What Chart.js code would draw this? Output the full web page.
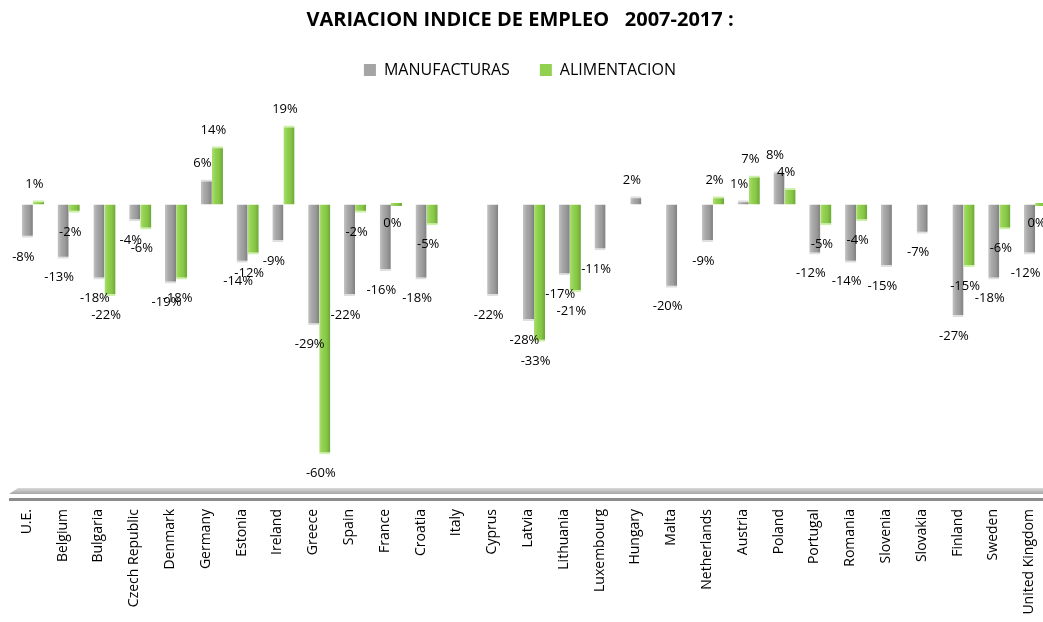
<!DOCTYPE html>
<html>
<head>
<meta charset="utf-8">
<script src="https://cdn.jsdelivr.net/npm/chart.js@4.4.1/dist/chart.umd.min.js"></script>
<style>
  html, body { margin: 0; padding: 0; background: #fff; overflow: hidden; }
  #wrap { position: absolute; left: -13px; top: 0; width: 1066px; height: 622px; }
</style>
</head>
<body>
<div id="wrap"><canvas id="chartEmpleo"></canvas></div>
<script>
// Datos (variación % 2007-2017)
const paises = ['U.E.', 'Belgium', 'Bulgaria', 'Czech Republic', 'Denmark', 'Germany', 'Estonia', 'Ireland',
  'Greece', 'Spain', 'France', 'Croatia', 'Italy', 'Cyprus', 'Latvia', 'Lithuania', 'Luxembourg', 'Hungary',
  'Malta', 'Netherlands', 'Austria', 'Poland', 'Portugal', 'Romania', 'Slovenia', 'Slovakia', 'Finland',
  'Sweden', 'United Kingdom'];
const manufacturas = [-8, -13, -18, -4, -19, 6, -14, -9, -29, -22, -16, -18, null, -22, -28, -17, -11, 2,
  -20, -9, 1, 8, -12, -14, -15, -7, -27, -18, -12];
const alimentacion = [1, -2, -22, -6, -18, 14, -12, 19, -60, -2, 0, -5, null, null, -33, -21, null, null,
  null, 2, 7, 4, -5, -4, null, null, -15, -6, 0];

const CAT_PCT = 0.62;
const COLORES = ['#a5a5a5', '#92d050'];

// degradado horizontal tipo cilindro para cada barra
function barFill(base, stops) {
  return function (c) {
    const chart = c.chart, xs = chart.scales.x;
    if (c.type !== 'data' || !xs || !chart.chartArea) return base;
    const catW = xs.width / paises.length;
    const w = catW * CAT_PCT / 2;
    const center = xs.getPixelForValue(c.dataIndex);
    const left = center - w + c.datasetIndex * w;
    const g = chart.ctx.createLinearGradient(left, 0, left + w, 0);
    stops.forEach((s, i) => g.addColorStop(i / (stops.length - 1), s));
    return g;
  };
}

// borde claro en el extremo de la barra (tapa)
function tapa(c) {
  const v = c.raw;
  if (c.type !== 'data') return 0;
  return v < 0 ? { bottom: 2 } : { top: 2 };
}

const pisoPlugin = {
  id: 'piso',
  beforeDatasetsDraw(chart) {
    const { ctx, chartArea } = chart;
    const b = chartArea.bottom;
    ctx.save();
    const g = ctx.createLinearGradient(0, b - 12, 0, b - 6);
    g.addColorStop(0, '#d9d9d9');
    g.addColorStop(0.5, '#bfbfbf');
    g.addColorStop(1, '#a6a6a6');
    ctx.fillStyle = g;
    ctx.beginPath();
    ctx.moveTo(chartArea.left + 3, b - 12);
    ctx.lineTo(chart.width, b - 12);
    ctx.lineTo(chart.width, b - 6);
    ctx.lineTo(chartArea.left - 6, b - 6);
    ctx.closePath();
    ctx.fill();
    ctx.fillStyle = '#8c8c8c';
    ctx.fillRect(chartArea.left - 6, b - 2, chart.width, 3);
    ctx.restore();
  }
};

const etiquetasPlugin = {
  id: 'etiquetas',
  afterDatasetsDraw(chart) {
    const ctx = chart.ctx;
    ctx.save();
    ctx.font = '13px "Open Sans"';
    ctx.fillStyle = '#000';
    ctx.textAlign = 'center';
    ctx.textBaseline = 'middle';
    chart.data.datasets.forEach((ds, di) => {
      chart.getDatasetMeta(di).data.forEach((el, i) => {
        const v = ds.data[i];
        if (v === null || v === undefined) return;
        const base = chart.scales.y.getPixelForValue(0);
        const end = chart.scales.y.getPixelForValue(v);
        const y = v > 0 ? end - 16 : Math.max(end, base) + 19;
        ctx.fillText(v + '%', el.x - 4, y);
      });
    });
    ctx.restore();
  }
};

new Chart(document.getElementById('chartEmpleo').getContext('2d'), {
  type: 'bar',
  data: {
    labels: paises,
    datasets: [
      {
        label: 'MANUFACTURAS',
        data: manufacturas,
        backgroundColor: barFill(COLORES[0], ['#c4c4c4', '#a8a8a8', '#9a9a9a', '#7f7f7f']),
        borderColor: 'rgba(220,220,220,0.9)',
        borderWidth: tapa
      },
      {
        label: 'ALIMENTACION',
        data: alimentacion,
        backgroundColor: barFill(COLORES[1], ['#a9e06e', '#92d050', '#86c545', '#6aa534']),
        borderColor: 'rgba(200,240,160,0.9)',
        borderWidth: tapa
      }
    ]
  },
  options: {
    responsive: true,
    maintainAspectRatio: false,
    animation: false,
    categoryPercentage: CAT_PCT,
    barPercentage: 1,
    minBarLength: 3,
    layout: { padding: 0 },
    plugins: {
      title: {
        display: true,
        text: 'VARIACION INDICE DE EMPLEO   2007-2017 :',
        color: '#000',
        font: { family: '"Open Sans"', size: 20, weight: 'bold' },
        padding: { top: 8, bottom: 0 }
      },
      legend: {
        position: 'top',
        labels: {
          color: '#000',
          font: { family: '"Open Sans"', size: 16 },
          boxWidth: 12,
          boxHeight: 12,
          padding: 30,
          generateLabels(chart) {
            return Chart.defaults.plugins.legend.labels.generateLabels(chart).map((l, i) => {
              l.fillStyle = COLORES[i];
              l.lineWidth = 0;
              l.strokeStyle = COLORES[i];
              return l;
            });
          }
        }
      },
      tooltip: { enabled: false }
    },
    scales: {
      x: {
        grid: { display: false },
        border: { display: false },
        ticks: {
          color: '#000',
          font: { family: '"Open Sans"', size: 14 },
          minRotation: 90,
          maxRotation: 90,
          autoSkip: false,
          padding: 1,
          labelOffset: -6
        },
        afterFit: s => { s.height = 122; }
      },
      y: {
        min: -71,
        max: 28,
        grid: { display: false },
        border: { display: false },
        ticks: { display: false },
        afterFit: s => { s.width = 28; }
      }
    }
  },
  plugins: [pisoPlugin, etiquetasPlugin]
});
</script>
</body>
</html>
